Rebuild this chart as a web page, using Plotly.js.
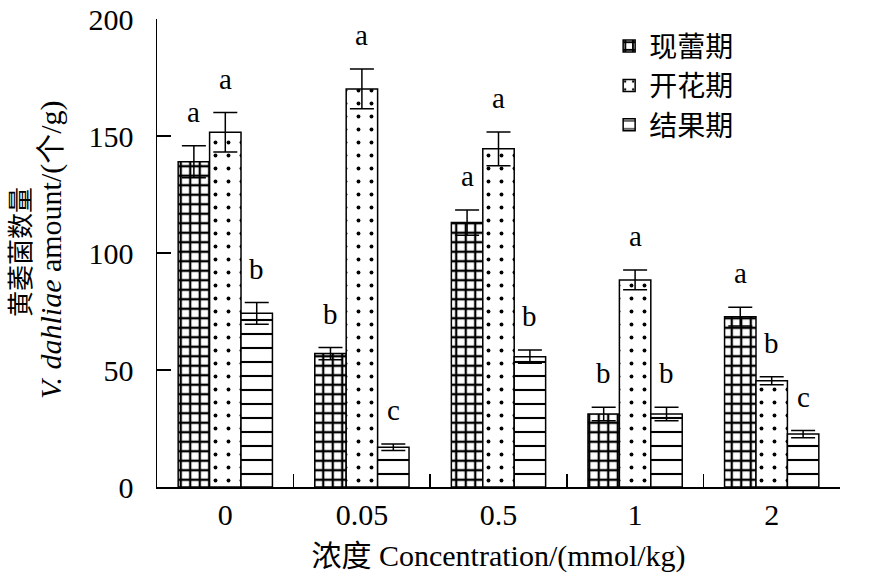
<!DOCTYPE html>
<html>
<head>
<meta charset="utf-8">
<script src="https://cdn.plot.ly/plotly-3.0.1.min.js"></script>
<style>html,body{margin:0;padding:0;background:#fff;}#chart{width:885px;height:578px;}</style>
</head>
<body>
<div id="chart"></div>
<script>
// ---- data ----
const categories = ["0", "0.05", "0.5", "1", "2"];
const seriesNames = ["现蕾期", "开花期", "结果期"];
const budValues = [139, 57, 113, 31.2, 72.8];
const budErrors = [6.8, 2.6, 5.4, 2.9, 4.0];
const flowerValues = [151.6, 170.1, 144.5, 88.5, 45.4];
const flowerErrors = [8.4, 8.5, 7.2, 4.2, 1.7];
const fruitValues = [74.2, 17.0, 55.7, 31.2, 22.6];
const fruitErrors = [4.6, 1.4, 2.8, 2.9, 1.5];
const budLetters = ["a", "b", "a", "b", "a"];
const flowerLetters = ["a", "a", "a", "a", "b"];
const fruitLetters = ["b", "c", "b", "b", "c"];

const FONT = "Liberation Serif, 'Times New Roman', 'Noto Sans CJK SC', serif";
const bargap = 0.31;
const nSeries = 3;
const barW = (1 - bargap) / nSeries;

const values = [budValues, flowerValues, fruitValues];
const errors = [budErrors, flowerErrors, fruitErrors];
const letters = [budLetters, flowerLetters, fruitLetters];
const patterns = [
  {shape: "+", size: 9.5, solidity: 0.42, fgcolor: "#000", bgcolor: "#fff"},
  {shape: ".", size: 13, solidity: 0.07, fgcolor: "#000", bgcolor: "#fff"},
  {shape: "-", size: 14, solidity: 0.15, fgcolor: "#000", bgcolor: "#fff"}
];

const traces = values.map((vals, i) => ({
  type: "bar",
  name: seriesNames[i],
  x: categories,
  y: vals,
  marker: {color: "#fff", line: {color: "#000", width: 1.5}, pattern: patterns[i]},
  error_y: {type: "data", array: errors[i], visible: true, color: "#000", thickness: 1.5, width: 12}
}));

const annotations = [];
values.forEach((vals, i) => {
  vals.forEach((v, j) => {
    annotations.push({
      xref: "x", yref: "y",
      x: j + (i - 1) * barW,
      y: v + errors[i][j],
      text: letters[i][j],
      showarrow: false,
      yanchor: "bottom",
      yshift: 16,
      font: {family: FONT, size: 29, color: "#000"}
    });
  });
});
annotations.push({
  xref: "paper", yref: "paper", x: 0, y: 0.5,
  xanchor: "center", yanchor: "middle", xshift: -139, yshift: 1,
  textangle: -90, showarrow: false,
  text: "黄萎菌数量",
  font: {family: "'Noto Sans CJK SC', sans-serif", size: 26, color: "#000"}
});
annotations.push({
  xref: "paper", yref: "paper", x: 0, y: 0.5,
  xanchor: "center", yanchor: "middle", xshift: -106, yshift: 3,
  textangle: -90, showarrow: false,
  text: "<i>V. dahliae</i> amount/(个/g)",
  font: {family: FONT, size: 30, color: "#000"}
});

const layout = {
  width: 885, height: 578,
  margin: {l: 157, r: 45, t: 19, b: 91},
  paper_bgcolor: "#fff", plot_bgcolor: "#fff",
  barmode: "group", bargap: bargap, bargroupgap: 0,
  font: {family: FONT, size: 30, color: "#000"},
  showlegend: true,
  legend: {
    x: 0.662, y: 0.995, xanchor: "left", yanchor: "top",
    bgcolor: "rgba(0,0,0,0)", borderwidth: 0,
    font: {family: "'Noto Sans CJK SC', sans-serif", size: 28, color: "#000"},
    tracegroupgap: 0
  },
  xaxis: {
    type: "category",
    showline: true, linecolor: "#000", linewidth: 1.5,
    ticks: "inside", ticklen: 13, tickwidth: 1.5, tickcolor: "#000",
    tickson: "boundaries",
    showgrid: false, zeroline: false,
    tickfont: {family: FONT, size: 30, color: "#000"},
    title: {text: "浓度 Concentration/(mmol/kg)", font: {family: FONT, size: 30, color: "#000"}, standoff: 15}
  },
  yaxis: {
    range: [0, 200], dtick: 50, tick0: 0,
    showline: true, linecolor: "#000", linewidth: 1.5,
    ticks: "inside", ticklen: 14, tickwidth: 1.5, tickcolor: "#000",
    showgrid: false, zeroline: false,
    ticklabelstandoff: 16,
    tickfont: {family: FONT, size: 30, color: "#000"}
  },
  annotations: annotations
};

Plotly.newPlot("chart", traces, layout, {displayModeBar: false, staticPlot: true});
</script>
</body>
</html>
